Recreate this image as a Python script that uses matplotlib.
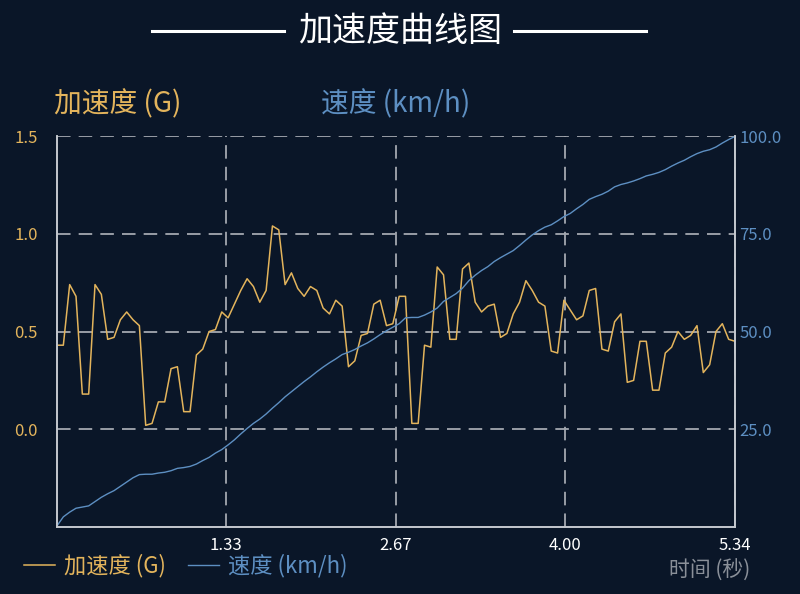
import numpy as np
import matplotlib.pyplot as plt
from matplotlib.lines import Line2D

plt.rcParams['font.family'] = ['Noto Sans CJK SC', 'DejaVu Sans']

# acceleration (G), sampled every ~0.05 s from 0 to 5.34 s
accel = [0.43, 0.43, 0.74, 0.68, 0.18, 0.18, 0.74, 0.69, 0.46, 0.47,
         0.56, 0.60, 0.56, 0.53, 0.02, 0.03, 0.14, 0.14, 0.31, 0.32,
         0.09, 0.09, 0.38, 0.41, 0.50, 0.51, 0.60, 0.57, 0.64, 0.71,
         0.77, 0.73, 0.65, 0.71, 1.04, 1.02, 0.74, 0.80, 0.72, 0.68,
         0.73, 0.71, 0.62, 0.59, 0.66, 0.63, 0.32, 0.35, 0.48, 0.49,
         0.64, 0.66, 0.53, 0.54, 0.68, 0.68, 0.03, 0.03, 0.43, 0.42,
         0.83, 0.79, 0.46, 0.46, 0.82, 0.85, 0.65, 0.60, 0.63, 0.64,
         0.47, 0.49, 0.59, 0.65, 0.76, 0.71, 0.65, 0.63, 0.40, 0.39,
         0.66, 0.61, 0.56, 0.58, 0.71, 0.72, 0.41, 0.40, 0.55, 0.59,
         0.24, 0.25, 0.45, 0.45, 0.20, 0.20, 0.39, 0.42, 0.50, 0.46,
         0.48, 0.53, 0.29, 0.33, 0.50, 0.54, 0.46, 0.45]

# speed (km/h), same sampling
speed = [0.3, 2.6, 3.8, 4.8, 5.1, 5.4, 6.5, 7.6, 8.5, 9.3,
         10.4, 11.5, 12.6, 13.4, 13.5, 13.5, 13.8, 14.0, 14.4, 15.0,
         15.2, 15.5, 16.1, 17.0, 17.8, 18.9, 19.8, 21.0, 22.3, 23.8,
         25.2, 26.5, 27.6, 28.9, 30.4, 31.8, 33.3, 34.6, 35.9, 37.2,
         38.4, 39.7, 40.9, 42.0, 43.0, 44.1, 44.7, 45.4, 46.3, 47.1,
         48.1, 49.2, 50.2, 51.1, 52.0, 53.5, 53.6, 53.6, 54.2, 55.0,
         56.0, 57.7, 58.7, 59.7, 61.1, 63.0, 64.4, 65.6, 66.6, 67.9,
         68.9, 69.8, 70.7, 72.0, 73.4, 74.7, 75.8, 76.7, 77.3, 78.3,
         79.4, 80.2, 81.4, 82.5, 83.8, 84.5, 85.1, 85.9, 87.0, 87.6,
         88.0, 88.5, 89.1, 89.8, 90.2, 90.7, 91.4, 92.3, 93.1, 93.8,
         94.7, 95.5, 96.1, 96.5, 97.2, 98.2, 99.1, 99.9]

t_end = 5.34
x_ticks = [1.33, 2.67, 4.00, 5.34]
x_labels = ["1.33", "2.67", "4.00", "5.34"]
acc_ticks = [0.0, 0.5, 1.0, 1.5]
spd_ticks = [25, 50, 75, 100]

BG = "#0a1628"
GOLD = "#e3b45c"
BLUE = "#5d8fc2"
GRID = "#a3a8b0"
SPINE = "#c5c9cf"


def main():
    t = np.linspace(0, t_end, len(accel))

    fig = plt.figure(figsize=(8, 5.94), dpi=100, facecolor=BG)
    ax = fig.add_axes([0.07125, 0.1128, 0.8475, 0.6582])
    ax.set_facecolor(BG)
    ax2 = ax.twinx()

    l1, = ax.plot(t, accel, color=GOLD, lw=1.1)
    l2, = ax2.plot(t, speed, color=BLUE, lw=1.0)

    ax.set_xlim(0, t_end)
    ax.set_ylim(-0.5, 1.5)
    ax2.set_ylim(0, 100)

    ax.set_xticks(x_ticks)
    ax.set_xticklabels(x_labels)
    ax.set_yticks(acc_ticks)
    ax.set_yticklabels([f"{v:.1f}" for v in acc_ticks])
    ax2.set_yticks(spd_ticks)
    ax2.set_yticklabels([f"{v:.1f}" for v in spd_ticks])

    ax.grid(True, color=GRID, lw=1.3, dashes=(7.5, 4.5))
    ax.tick_params(axis='x', length=0, pad=7, labelsize=12, labelcolor='white')
    ax.tick_params(axis='y', length=0, pad=14, labelsize=12, labelcolor=GOLD)
    ax2.tick_params(axis='y', length=0, pad=3, labelsize=12, labelcolor=BLUE)

    for a in (ax, ax2):
        a.spines['top'].set_visible(False)
        for s in ('left', 'right', 'bottom'):
            a.spines[s].set_color(SPINE)
            a.spines[s].set_linewidth(1.2)

    # title with side rules
    fig.text(0.5, 0.947, "加速度曲线图", color='white', fontsize=24.5,
             ha='center', va='center')
    fig.add_artist(Line2D([0.19, 0.355], [0.947, 0.947], color='white', lw=2.2))
    fig.add_artist(Line2D([0.643, 0.808], [0.947, 0.947], color='white', lw=2.2))

    fig.text(0.068, 0.824, "加速度 (G)", color=GOLD, fontsize=20,
             ha='left', va='center')
    fig.text(0.401, 0.824, "速度 (km/h)", color=BLUE, fontsize=20,
             ha='left', va='center')

    leg = fig.legend(handles=[l1, l2], labels=["加速度 (G)", "速度 (km/h)"],
                     loc='center left', bbox_to_anchor=(0.005, 0.047), ncol=2,
                     frameon=False, fontsize=16, handlelength=1.4,
                     handletextpad=0.4, columnspacing=1.0)
    for txt, c in zip(leg.get_texts(), (GOLD, BLUE)):
        txt.set_color(c)

    fig.text(0.836, 0.040, "时间 (秒)", color="#8a9099", fontsize=15,
             ha='left', va='center')

    fig.savefig("out.png", dpi=100, facecolor=BG)
    plt.close(fig)


if __name__ == "__main__":
    main()
